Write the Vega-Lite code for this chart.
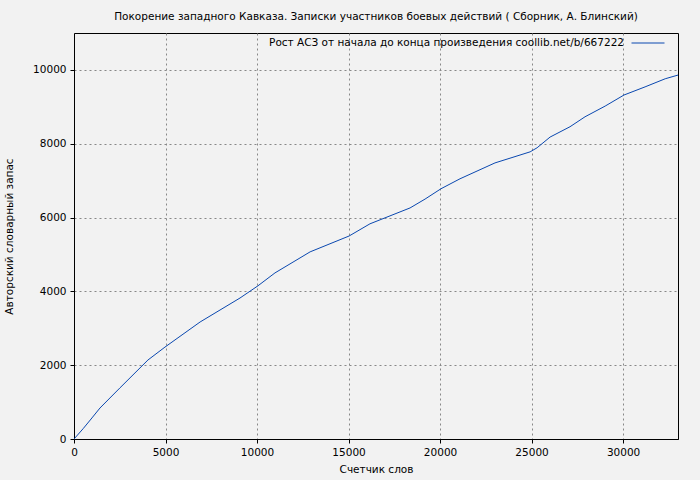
{
  "$schema": "https://vega.github.io/schema/vega-lite/v6.json",
  "width": 604,
  "height": 406,
  "autosize": {"type": "none"},
  "padding": {"left": 74, "top": 33, "right": 22, "bottom": 41},
  "background": "#f2f2f2",
  "config": {
    "font": "DejaVu Sans",
    "view": {"stroke": "black", "strokeWidth": 1, "fill": "#f2f2f2"},
    "axis": {
      "domainColor": "black",
      "tickColor": "black",
      "tickSize": 4,
      "labelColor": "black",
      "labelFontSize": 10.5,
      "labelFont": "DejaVu Sans",
      "titleFont": "DejaVu Sans",
      "titleFontSize": 10.5,
      "titleFontWeight": "normal",
      "titleColor": "black",
      "gridColor": "#888888",
      "gridDash": [2, 3],
      "gridWidth": 1,
      "gridOpacity": 1
    }
  },
  "title": {
    "text": "Покорение западного Кавказа. Записки участников боевых действий ( Сборник, А. Блинский)",
    "fontSize": 10.5,
    "fontWeight": "normal",
    "font": "DejaVu Sans",
    "color": "black",
    "anchor": "middle",
    "offset": 4
  },
  "data": {
    "values": [
      {"x": 0, "y": 0, "s": "Рост АСЗ от начала до конца произведения coollib.net/b/667222"},
      {"x": 500, "y": 280, "s": "Рост АСЗ от начала до конца произведения coollib.net/b/667222"},
      {"x": 980, "y": 570, "s": "Рост АСЗ от начала до конца произведения coollib.net/b/667222"},
      {"x": 1420, "y": 840, "s": "Рост АСЗ от начала до конца произведения coollib.net/b/667222"},
      {"x": 2500, "y": 1380, "s": "Рост АСЗ от начала до конца произведения coollib.net/b/667222"},
      {"x": 4040, "y": 2140, "s": "Рост АСЗ от начала до конца произведения coollib.net/b/667222"},
      {"x": 4970, "y": 2490, "s": "Рост АСЗ от начала до конца произведения coollib.net/b/667222"},
      {"x": 6890, "y": 3170, "s": "Рост АСЗ от начала до конца произведения coollib.net/b/667222"},
      {"x": 9070, "y": 3820, "s": "Рост АСЗ от начала до конца произведения coollib.net/b/667222"},
      {"x": 10050, "y": 4150, "s": "Рост АСЗ от начала до конца произведения coollib.net/b/667222"},
      {"x": 10980, "y": 4500, "s": "Рост АСЗ от начала до конца произведения coollib.net/b/667222"},
      {"x": 12900, "y": 5070, "s": "Рост АСЗ от начала до конца произведения coollib.net/b/667222"},
      {"x": 15030, "y": 5500, "s": "Рост АСЗ от начала до конца произведения coollib.net/b/667222"},
      {"x": 16170, "y": 5830, "s": "Рост АСЗ от начала до конца произведения coollib.net/b/667222"},
      {"x": 18360, "y": 6260, "s": "Рост АСЗ от начала до конца произведения coollib.net/b/667222"},
      {"x": 19180, "y": 6500, "s": "Рост АСЗ от начала до конца произведения coollib.net/b/667222"},
      {"x": 20050, "y": 6780, "s": "Рост АСЗ от начала до конца произведения coollib.net/b/667222"},
      {"x": 21090, "y": 7050, "s": "Рост АСЗ от начала до конца произведения coollib.net/b/667222"},
      {"x": 23000, "y": 7480, "s": "Рост АСЗ от начала до конца произведения coollib.net/b/667222"},
      {"x": 24920, "y": 7780, "s": "Рост АСЗ от начала до конца произведения coollib.net/b/667222"},
      {"x": 25300, "y": 7890, "s": "Рост АСЗ от начала до конца произведения coollib.net/b/667222"},
      {"x": 26010, "y": 8180, "s": "Рост АСЗ от начала до конца произведения coollib.net/b/667222"},
      {"x": 27100, "y": 8460, "s": "Рост АСЗ от начала до конца произведения coollib.net/b/667222"},
      {"x": 27920, "y": 8730, "s": "Рост АСЗ от начала до конца произведения coollib.net/b/667222"},
      {"x": 29020, "y": 9020, "s": "Рост АСЗ от начала до конца произведения coollib.net/b/667222"},
      {"x": 30050, "y": 9320, "s": "Рост АСЗ от начала до конца произведения coollib.net/b/667222"},
      {"x": 31200, "y": 9540, "s": "Рост АСЗ от начала до конца произведения coollib.net/b/667222"},
      {"x": 32300, "y": 9760, "s": "Рост АСЗ от начала до конца произведения coollib.net/b/667222"},
      {"x": 33000, "y": 9860, "s": "Рост АСЗ от начала до конца произведения coollib.net/b/667222"}
    ]
  },
  "mark": {"type": "line", "strokeWidth": 1, "clip": true},
  "encoding": {
    "x": {
      "field": "x",
      "type": "quantitative",
      "scale": {"domain": [0, 33000], "nice": false, "zero": false},
      "axis": {"values": [0, 5000, 10000, 15000, 20000, 25000, 30000], "title": "Счетчик слов", "labelPadding": 4, "titlePadding": 7, "labelFlush": false, "format": "d"}
    },
    "y": {
      "field": "y",
      "type": "quantitative",
      "scale": {"domain": [0, 11000], "nice": false},
      "axis": {"values": [0, 2000, 4000, 6000, 8000, 10000], "title": "Авторский словарный запас", "labelPadding": 4, "titlePadding": 18, "format": "d"}
    },
    "color": {
      "field": "s",
      "type": "nominal",
      "scale": {"range": ["#0a48b0"]},
      "legend": {
        "title": null,
        "orient": "none",
        "legendX": 557,
        "legendY": -7,
        "symbolType": "stroke",
        "symbolSize": 1089,
        "symbolStrokeWidth": 1,
        "labelAlign": "right",
        "labelOffset": -41,
        "labelFontSize": 10.5,
        "labelFont": "DejaVu Sans",
        "labelColor": "black",
        "labelLimit": 500,
        "padding": 0
      }
    }
  }
}
